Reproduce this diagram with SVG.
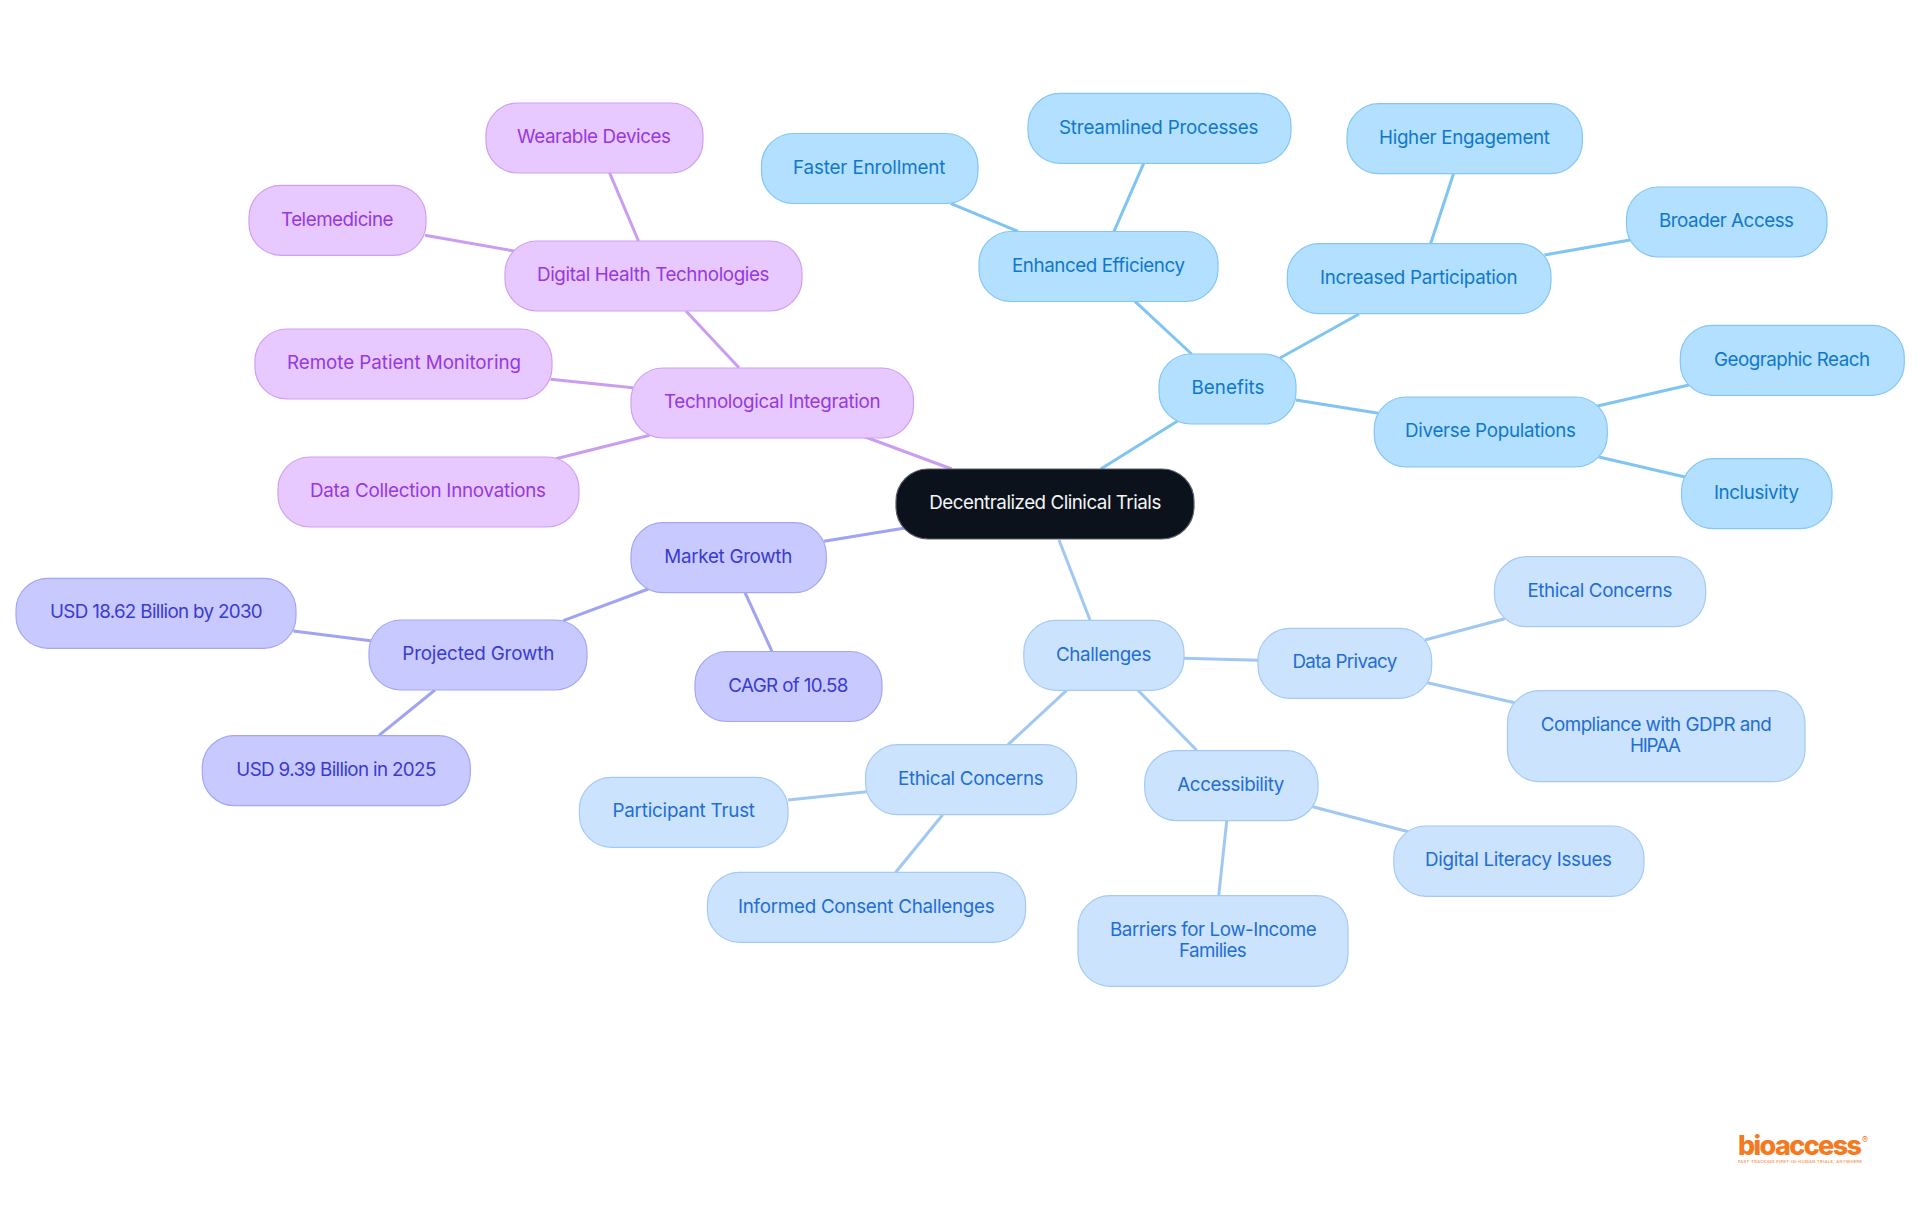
<svg xmlns="http://www.w3.org/2000/svg" width="1920" height="1215" viewBox="0 0 1920 1215">
<style>
text{font-family:"Inter","Noto Sans","Liberation Sans",sans-serif;font-size:18.8px;font-weight:400}
rect{stroke-width:1.2;rx:32px;ry:32px}
#connectors line{stroke-width:3;fill:none}
.b rect{fill:#b3e0ff;stroke:#83c6f4}.b text{fill:#0f78ca}
.c rect{fill:#cce3fd;stroke:#a3caf4}.c text{fill:#1f6ed3}
.p rect{fill:#e7c9ff;stroke:#cda0f1}.p text{fill:#9638e0}
.i rect{fill:#c8caff;stroke:#a3a6f3}.i text{fill:#3a3ad0}
.r rect{fill:#0b121b;stroke:#5a5f66}.r text{fill:#f4f5f6}
.lb{stroke:#7fc4f3}.lc{stroke:#a0c8f3}.lp{stroke:#cb9df0}.li{stroke:#a0a3f2}
#logo text{fill:#f5791f;font-family:"Inter","Liberation Sans",sans-serif}
</style>
<rect width="1920" height="1215" fill="#fff" style="stroke:none;rx:0;ry:0"/>
<g id="connectors">
<line class="lb" x1="1100.7" y1="469" x2="1178" y2="420.7"/>
<line class="lb" x1="1135" y1="301.3" x2="1191.6" y2="354"/>
<line class="lb" x1="950.5" y1="203.3" x2="1018" y2="231.3"/>
<line class="lb" x1="1143.7" y1="163.3" x2="1114" y2="231.3"/>
<line class="lb" x1="1280" y1="358" x2="1359" y2="314"/>
<line class="lb" x1="1453.5" y1="173.7" x2="1430.6" y2="243.7"/>
<line class="lb" x1="1544.5" y1="255" x2="1630" y2="240"/>
<line class="lb" x1="1296" y1="400" x2="1378.4" y2="413.3"/>
<line class="lb" x1="1597.5" y1="406" x2="1689" y2="385"/>
<line class="lb" x1="1599" y1="457" x2="1685" y2="477"/>
<line class="lc" x1="1059" y1="540" x2="1090" y2="620"/>
<line class="lc" x1="1184" y1="658.3" x2="1258" y2="660.3"/>
<line class="lc" x1="1424.8" y1="640" x2="1504.8" y2="618.7"/>
<line class="lc" x1="1427.5" y1="682.7" x2="1514.8" y2="702.7"/>
<line class="lc" x1="1138" y1="690.3" x2="1196.7" y2="750.3"/>
<line class="lc" x1="1312.7" y1="806.7" x2="1408.4" y2="831.7"/>
<line class="lc" x1="1226.8" y1="820.3" x2="1218.7" y2="895.7"/>
<line class="lc" x1="1066.6" y1="690.3" x2="1008" y2="744.7"/>
<line class="lc" x1="866.6" y1="791.7" x2="788" y2="800"/>
<line class="lc" x1="942.7" y1="814.7" x2="895.7" y2="872.3"/>
<line class="lp" x1="864" y1="436.5" x2="951.7" y2="469"/>
<line class="lp" x1="686" y1="311" x2="739" y2="367.7"/>
<line class="lp" x1="609.5" y1="172.7" x2="638.5" y2="241"/>
<line class="lp" x1="425" y1="235.3" x2="514" y2="251"/>
<line class="lp" x1="550.5" y1="379.3" x2="633" y2="387.7"/>
<line class="lp" x1="556" y1="458.7" x2="649.6" y2="435.3"/>
<line class="li" x1="824" y1="541.3" x2="905" y2="528"/>
<line class="li" x1="648.3" y1="589" x2="563.3" y2="620.7"/>
<line class="li" x1="745" y1="592.7" x2="772" y2="651.3"/>
<line class="li" x1="293.3" y1="631" x2="370.7" y2="640.7"/>
<line class="li" x1="435" y1="690" x2="379" y2="735.3"/>
</g>
<g id="root" class="r"><rect x="896" y="469" width="298" height="70"/><text x="929.3" y="508.5" textLength="232">Decentralized Clinical Trials</text></g>
<g id="benefits" class="b"><rect x="1159" y="354" width="137" height="70"/><text x="1191.5" y="394" textLength="73">Benefits</text></g>
<g id="enhanced-efficiency" class="b"><rect x="979" y="231.5" width="239" height="70"/><text x="1012" y="272" textLength="173">Enhanced Efficiency</text></g>
<g id="faster-enrollment" class="b"><rect x="761.5" y="133.5" width="216.5" height="70"/><text x="793" y="173.5" textLength="152.5">Faster Enrollment</text></g>
<g id="streamlined-processes" class="b"><rect x="1028" y="93.3" width="263" height="70"/><text x="1059" y="133.5" textLength="199.5">Streamlined Processes</text></g>
<g id="increased-participation" class="b"><rect x="1287.3" y="243.7" width="263.7" height="70"/><text x="1320" y="284" textLength="197.6">Increased Participation</text></g>
<g id="higher-engagement" class="b"><rect x="1347" y="103.7" width="235.4" height="70"/><text x="1379" y="143.5" textLength="171">Higher Engagement</text></g>
<g id="broader-access" class="b"><rect x="1626.5" y="187" width="200.5" height="70"/><text x="1659" y="227" textLength="135">Broader Access</text></g>
<g id="diverse-populations" class="b"><rect x="1374.3" y="397" width="233" height="70"/><text x="1405" y="436.5" textLength="171">Diverse Populations</text></g>
<g id="geographic-reach" class="b"><rect x="1680.3" y="325.3" width="224" height="70"/><text x="1714" y="365.5" textLength="156">Geographic Reach</text></g>
<g id="inclusivity" class="b"><rect x="1681.6" y="458.7" width="150.4" height="70"/><text x="1714" y="498.5" textLength="85">Inclusivity</text></g>
<g id="challenges" class="c"><rect x="1023.8" y="620.3" width="160.2" height="70"/><text x="1056" y="661" textLength="95.3">Challenges</text></g>
<g id="data-privacy" class="c"><rect x="1258" y="628.3" width="173.7" height="70"/><text x="1292.4" y="667.5" textLength="105">Data Privacy</text></g>
<g id="ethical-concerns-1" class="c"><rect x="1494.5" y="556.7" width="211.2" height="70"/><text x="1527.4" y="596.5" textLength="145">Ethical Concerns</text></g>
<g id="compliance" class="c"><rect x="1507.5" y="690.7" width="297.5" height="91"/><text x="1540.8" y="731" textLength="231">Compliance with GDPR and</text><text x="1630" y="752" textLength="51">HIPAA</text></g>
<g id="accessibility" class="c"><rect x="1144.7" y="750.6" width="173.3" height="70"/><text x="1177.3" y="790.5" textLength="107">Accessibility</text></g>
<g id="digital-literacy" class="c"><rect x="1393.8" y="826" width="250.2" height="70.3"/><text x="1425" y="866" textLength="187">Digital Literacy Issues</text></g>
<g id="barriers" class="c"><rect x="1078" y="895.7" width="270" height="90.6"/><text x="1110" y="936" textLength="206.6">Barriers for Low-Income</text><text x="1179" y="957" textLength="67.7">Families</text></g>
<g id="ethical-concerns-2" class="c"><rect x="865.6" y="744.7" width="211" height="70"/><text x="898" y="784.5" textLength="145.7">Ethical Concerns</text></g>
<g id="participant-trust" class="c"><rect x="579.4" y="777.3" width="208.6" height="70"/><text x="612.5" y="816.5" textLength="142.5">Participant Trust</text></g>
<g id="informed-consent" class="c"><rect x="707.4" y="872.3" width="318.2" height="70"/><text x="738" y="913" textLength="256.7">Informed Consent Challenges</text></g>
<g id="technological-integration" class="p"><rect x="631" y="368" width="282.5" height="70"/><text x="664" y="407.5" textLength="216.5">Technological Integration</text></g>
<g id="digital-health" class="p"><rect x="505" y="241" width="297" height="70"/><text x="537" y="280.5" textLength="232.5">Digital Health Technologies</text></g>
<g id="wearable-devices" class="p"><rect x="486" y="103" width="217" height="70"/><text x="517" y="143" textLength="154">Wearable Devices</text></g>
<g id="telemedicine" class="p"><rect x="249" y="185.3" width="177" height="70"/><text x="281" y="226" textLength="112.5">Telemedicine</text></g>
<g id="remote-monitoring" class="p"><rect x="255" y="329" width="297" height="70"/><text x="287" y="368.5" textLength="234">Remote Patient Monitoring</text></g>
<g id="data-collection" class="p"><rect x="278" y="457" width="301" height="70"/><text x="310" y="496.5" textLength="236">Data Collection Innovations</text></g>
<g id="market-growth" class="i"><rect x="631" y="522.7" width="195.3" height="70"/><text x="664.3" y="563.3" textLength="128">Market Growth</text></g>
<g id="projected-growth" class="i"><rect x="369" y="620" width="218" height="70"/><text x="402.3" y="660" textLength="152">Projected Growth</text></g>
<g id="usd-18" class="i"><rect x="16" y="578.3" width="280" height="70"/><text x="50" y="617.5" textLength="212.7">USD 18.62 Billion by 2030</text></g>
<g id="usd-9" class="i"><rect x="202.3" y="735.6" width="268" height="70"/><text x="236.3" y="775.5" textLength="200">USD 9.39 Billion in 2025</text></g>
<g id="cagr" class="i"><rect x="695" y="651.5" width="187" height="70"/><text x="728.3" y="691.5" textLength="120">CAGR of 10.58</text></g>
<g id="logo">
<text x="1738" y="1155" textLength="124" style="font-size:27px;font-weight:800">bioaccess</text>
<text x="1862" y="1143" style="font-size:9px;font-weight:400">®</text>
<text x="1738" y="1163" textLength="124" style="font-size:4px;font-weight:600" opacity="0.75">FAST-TRACKING FIRST-IN-HUMAN TRIALS, ANYWHERE</text>
</g>
</svg>
